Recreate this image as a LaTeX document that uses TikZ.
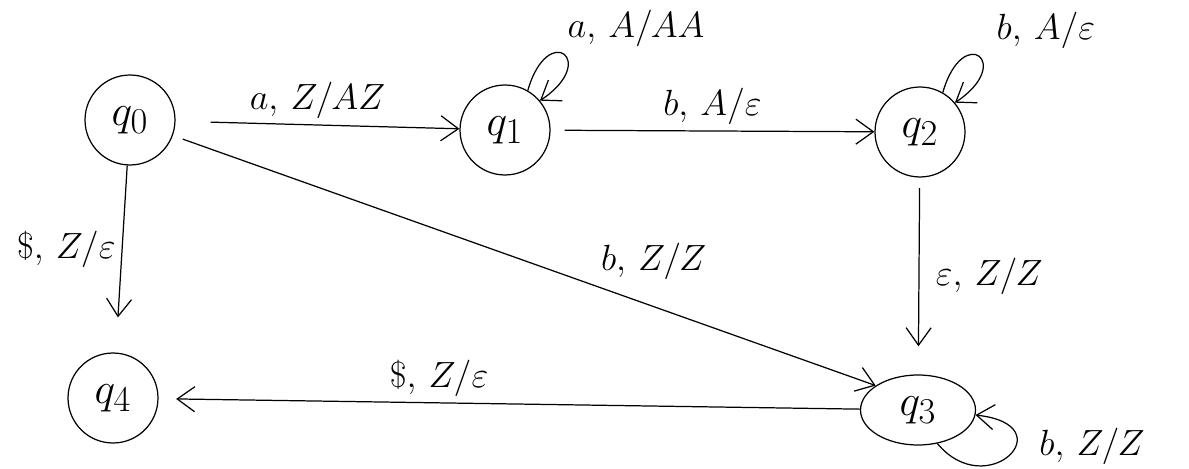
\documentclass[tikz,border=0pt]{standalone}
\usepackage{tikz}
\usetikzlibrary{arrows.meta,shapes.geometric}

\begin{document}
\begin{tikzpicture}[x=0.02cm,y=-0.02cm,
  state/.style={draw,circle,minimum size=1.8cm,inner sep=0pt,font=\fontsize{30}{34}\selectfont,line width=0.7pt},
  trans/.style={->,>={Straight Barb[length=3.5mm,width=5mm]},line width=0.7pt},
  lbl/.style={font=\fontsize{22}{26}\selectfont}]
\path[use as bounding box] (0,0) rectangle (1189,469);
\node[state] (q0) at (130,120) {$q_0$};
\node[state] (q1) at (505,130) {$q_1$};
\node[state] (q2) at (920,132) {$q_2$};
\node[state,ellipse,minimum width=2.3cm,minimum height=1.4cm] (q3) at (918,410) {$q_3$};
\node[state] (q4) at (113,398) {$q_4$};
\draw[trans,shorten <=20pt] (q0) -- node[lbl,above] {$a,\,Z/AZ$} (q1);
\draw[trans,shorten <=8pt] (q1) -- node[lbl,above] {$b,\,A/\varepsilon$} (q2);
\draw[trans,shorten <=6pt,shorten >=16pt] (q2) -- node[lbl,right,xshift=6pt] {$\varepsilon,\,Z/Z$} (q3);
\draw[trans,shorten <=6pt] (q0.-20) -- node[lbl,above right,pos=0.6] {$b,\,Z/Z$} (q3.150);
\draw[trans,shorten >=20pt] (q0) -- node[lbl,left,pos=0.45] {$\$,\,Z/\varepsilon$} (q4);
\draw[trans,shorten >=10pt] (q3) -- node[lbl,above,pos=0.6] {$\$,\,Z/\varepsilon$} (q4);
\draw[trans] (q1.60) .. controls +(20,-70) and +(60,-40) .. node[lbl,anchor=south west,pos=0.45] {$a,\,A/AA$} (q1.40);
\draw[trans] (q2.60) .. controls +(20,-70) and +(60,-40) .. node[lbl,anchor=south west,pos=0.45,xshift=8pt] {$b,\,A/\varepsilon$} (q2.40);
\draw[trans] (q3.-60) .. controls +(50,60) and +(90,10) .. node[lbl,right,pos=0.6,xshift=10pt] {$b,\,Z/Z$} (q3.-5);
\end{tikzpicture}
\end{document}
